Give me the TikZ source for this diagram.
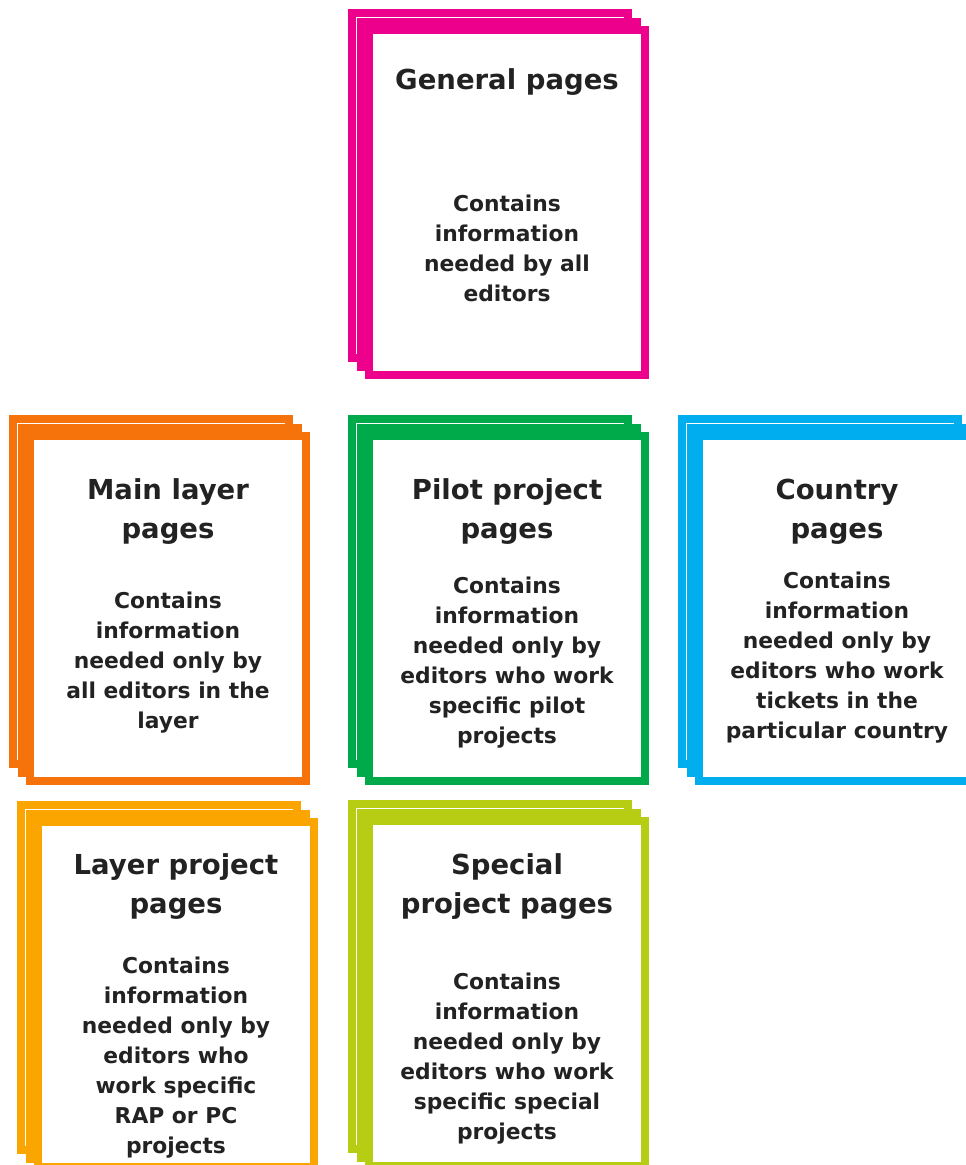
\documentclass[tikz,border=0pt]{standalone}
\usepackage{fontspec}
\setmainfont{DejaVu Sans}
\usepackage{xcolor}
\usepackage{tikz}
\usetikzlibrary{positioning}

\definecolor{generalpink}{RGB}{236,0,140}
\definecolor{mainorange}{RGB}{245,115,10}
\definecolor{pilotgreen}{RGB}{0,170,75}
\definecolor{countryblue}{RGB}{0,174,239}
\definecolor{layeramber}{RGB}{250,165,0}
\definecolor{speciallime}{RGB}{182,205,20}
\definecolor{inkgrey}{RGB}{34,34,34}

\tikzset{
    sheet/.style={
        draw=#1,
        line width=8pt,
        fill=white,
        minimum width=276pt,
        minimum height=345pt,
        inner sep=0pt,
        anchor=north west
    },
    heading/.style={
        font=\bfseries\fontsize{27.5}{39}\selectfont,
        text=inkgrey,
        align=center
    },
    blurb/.style={
        font=\bfseries\fontsize{21.8}{30}\selectfont,
        text=inkgrey,
        align=center
    }
}

% three sheets stacked, back one first: name, colour, top-left corner
\newcommand{\pagestack}[4]{%
    \foreach \k in {0,1,2} {
        \node[sheet=#2] (#1-\k) at (#3+8.5*\k, #4+8.5*\k) {};
    }%
}

\begin{document}
\begin{tikzpicture}[x=1pt, y=-1pt]
                \useasboundingbox (0,0) rectangle (966,1165);
                \clip (0,0) rectangle (966,1165);

                \pagestack{general}{generalpink}{348}{9}
                \pagestack{mainlayer}{mainorange}{9}{415}
                \pagestack{pilot}{pilotgreen}{348}{415}
                \pagestack{country}{countryblue}{678}{415}
                \pagestack{layerproj}{layeramber}{17}{801}
                \pagestack{special}{speciallime}{348}{800}

                % top row
                \node[heading] (general-title) at (507,82) {General pages};
                \node[blurb] (general-text) at (507,248.5)
                    {Contains\\information\\needed by all\\editors};

                % middle row
                \node[heading] (mainlayer-title) at (168,511.5) {Main layer\\pages};
                \node[blurb] (mainlayer-text) at (168,662.5)
                    {Contains\\information\\needed only by\\all editors in the\\layer};

                \node[heading] (pilot-title) at (507,511.5) {Pilot project\\pages};
                \node[blurb] (pilot-text) at (507,662.5)
                    {Contains\\information\\needed only by\\editors who work\\specific pilot\\projects};

                \node[heading] (country-title) at (837,511.5) {Country\\pages};
                \node[blurb] (country-text) at (837,657.5)
                    {Contains\\information\\needed only by\\editors who work\\tickets in the\\particular country};

                % bottom row
                \node[heading] (layerproj-title) at (176,886.5) {Layer project\\pages};
                \node[blurb] (layerproj-text) at (176,1057.5)
                    {Contains\\information\\needed only by\\editors who\\work specific\\RAP or PC\\projects};

                \node[heading] (special-title) at (507,886.5) {Special\\project pages};
                \node[blurb] (special-text) at (507,1058.5)
                    {Contains\\information\\needed only by\\editors who work\\specific special\\projects};
\end{tikzpicture}
\end{document}
